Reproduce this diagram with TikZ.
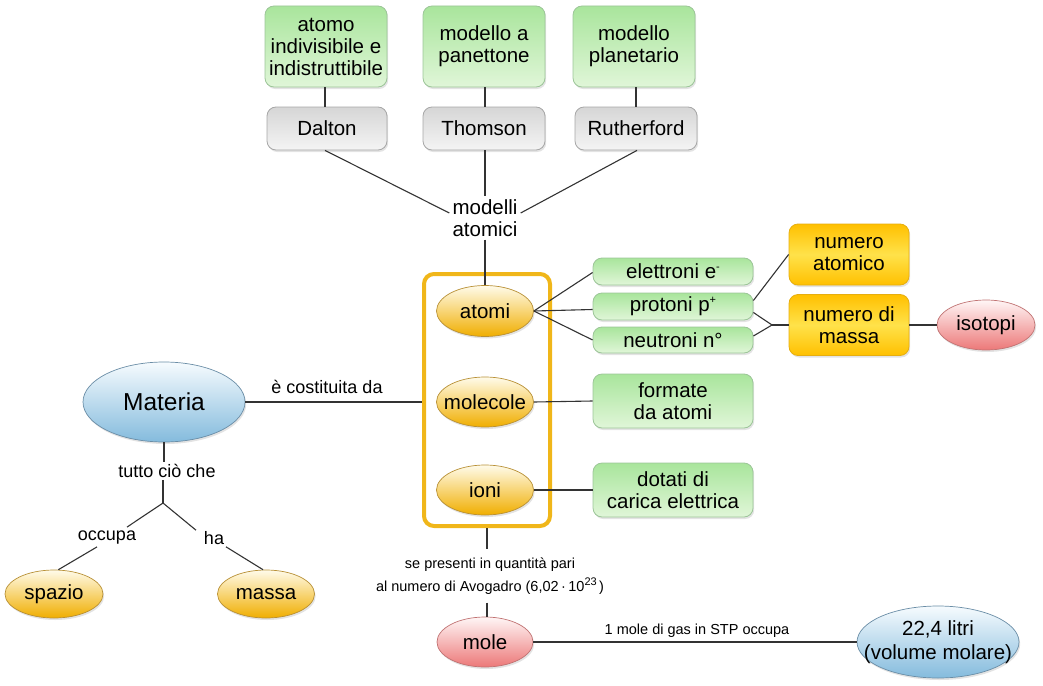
\documentclass[tikz,border=0pt]{standalone}
\usepackage{fontspec}
\setmainfont{Liberation Sans}
\usetikzlibrary{shadows,calc,shapes.geometric}
\definecolor{greenTop}{HTML}{A9E59C}
\definecolor{greenBot}{HTML}{E0F6D8}
\definecolor{greenBd}{HTML}{9CC598}
\definecolor{grayTop}{HTML}{D6D6D6}
\definecolor{grayBot}{HTML}{F4F4F4}
\definecolor{grayBd}{HTML}{A6A6A6}
\definecolor{goldTop}{HTML}{FFC000}
\definecolor{goldMid}{HTML}{FFE24A}
\definecolor{goldBd}{HTML}{E6AE10}
\definecolor{yelTop}{HTML}{FFFBEA}
\definecolor{yelBot}{HTML}{F0AE00}
\definecolor{yelBd}{HTML}{B89035}
\definecolor{pinkTop}{HTML}{FFF6F6}
\definecolor{pinkBot}{HTML}{EC7878}
\definecolor{pinkBd}{HTML}{C07272}
\definecolor{blueTop}{HTML}{F6FBFE}
\definecolor{blueBot}{HTML}{84BBDD}
\definecolor{blueBd}{HTML}{6A8DA6}
\definecolor{contc}{HTML}{F0B619}
\definecolor{linec}{HTML}{333333}
\newcommand{\upx}[1]{\raisebox{0.42em}{\fontsize{11}{11}\selectfont #1}}
\begin{document}
\begin{tikzpicture}[x=1pt,y=-1pt,
  base/.style={font=\fontsize{20.5}{22}\selectfont, align=center, inner sep=0pt, text=black},
  shd/.style={drop shadow={shadow xshift=1.2pt,shadow yshift=-2pt,opacity=0.22}},
  gbox/.style={base, rectangle, rounded corners=9pt, draw=greenBd, line width=0.8pt, top color=greenTop, bottom color=greenBot, shd},
  graybox/.style={base, rectangle, rounded corners=9pt, draw=grayBd, line width=0.8pt, top color=grayTop, bottom color=grayBot, shd},
  goldbox/.style={base, rectangle, rounded corners=9pt, draw=goldBd, line width=0.8pt, top color=goldTop, bottom color=goldTop, middle color=goldMid, shd},
  yell/.style={base, ellipse, draw=yelBd, line width=0.7pt, top color=yelTop, bottom color=yelBot, shd},
  pell/.style={base, ellipse, draw=pinkBd, line width=0.7pt, top color=pinkTop, bottom color=pinkBot, shd},
  bell/.style={base, ellipse, draw=blueBd, line width=0.7pt, top color=blueTop, bottom color=blueBot, shd},
  lbl/.style={font=\fontsize{18}{20}\selectfont, align=center, inner sep=2pt, text=black},
  slbl/.style={font=\fontsize{14.5}{23}\selectfont, align=center, inner sep=2pt, text=black},
  conn/.style={draw=linec, line width=1.1pt}
]
\useasboundingbox (0,0) rectangle (1043,685);

% top models
\node[gbox, minimum width=122pt, minimum height=81pt] (atomo) at (326,46.5) {atomo\\indivisibile e\\indistruttibile};
\node[gbox, minimum width=122pt, minimum height=81pt] (panett) at (484,46.5) {modello a\\panettone};
\node[gbox, minimum width=122pt, minimum height=81pt] (planet) at (634,46.5) {modello\\planetario};
\node[graybox, minimum width=120pt, minimum height=43pt] (dalton) at (327,128.5) {Dalton};
\node[graybox, minimum width=122pt, minimum height=43pt] (thomson) at (484,128.5) {Thomson};
\node[graybox, minimum width=122pt, minimum height=43pt] (ruth) at (636,128.5) {Rutherford};
\node[base, inner sep=3pt] (modelli) at (485,218) {modelli\\atomici};

\draw[conn] (atomo.south -| 325,0) -- (dalton.north -| 325,0);
\draw[conn] (panett.south -| 485,0) -- (thomson.north -| 485,0);
\draw[conn] (planet.south -| 636,0) -- (ruth.north -| 636,0);
\draw[conn] (dalton.south -| 325,0) -- ([yshift=5pt]modelli.west);
\draw[conn] (thomson.south -| 485,0) -- (modelli.north);
\draw[conn] (ruth.south -| 637,0) -- ([yshift=5pt]modelli.east);

% container
\node[draw=contc, line width=4pt, rounded corners=10pt, minimum width=126pt, minimum height=252pt, inner sep=0pt] (cont) at (487,400) {};
\node[yell, minimum width=97pt, minimum height=51pt] (atomi) at (485,311) {atomi};
\node[yell, inner xsep=-9pt, minimum width=97pt, minimum height=50pt] (molecole) at (485,402) {molecole};
\node[yell, minimum width=97pt, minimum height=50pt] (ioni) at (485,490) {ioni};
\draw[conn] (modelli.south) -- (atomi.north);

% particles
\node[gbox, minimum width=160pt, minimum height=27pt] (elet) at (673,271.5) {elettroni e\upx{-}};
\node[gbox, minimum width=160pt, minimum height=27pt] (prot) at (673,306.5) {protoni p\upx{+}};
\node[gbox, minimum width=160pt, minimum height=26pt] (neut) at (673,340) {neutroni n°};
\node[gbox, minimum width=160pt, minimum height=54pt] (formate) at (673,401) {formate\\da atomi};
\node[gbox, minimum width=160pt, minimum height=54pt] (dotati) at (673,490) {dotati di\\carica elettrica};
\node[goldbox, minimum width=120pt, minimum height=61pt] (numat) at (849,254.5) {numero\\atomico};
\node[goldbox, minimum width=120pt, minimum height=61pt] (nummas) at (849,325) {numero di\\massa};
\node[pell, minimum width=98pt, minimum height=50pt] (isotopi) at (986,325) {isotopi};
\coordinate (j) at (772,325);

\draw[conn] (atomi.east) -- ([yshift=-1pt]elet.west);
\draw[conn] (atomi.east) -- ([yshift=-3pt]prot.west);
\draw[conn] (atomi.east) -- (neut.west);
\draw[conn] ([yshift=6pt]prot.east) -- (numat.west);
\draw[conn] ([yshift=-6pt]prot.east) -- (j);
\draw[conn] ([yshift=4pt]neut.east) -- (j);
\draw[conn] (j) -- (nummas.west);
\draw[conn] (nummas.east) -- (isotopi.west);
\draw[conn] (molecole.east) -- (formate.west);
\draw[conn] (ioni.east) -- (dotati.west);

% Materia
\node[bell, font=\fontsize{24.5}{26}\selectfont, minimum width=162pt, minimum height=80pt] (materia) at (164,402) {Materia};
\draw[conn] (materia.east) -- (materia.east -| cont.west);
\node[lbl] (costituita) at (327,387) {è costituita da};
\node[lbl] (tutto) at (167,471) {tutto ciò che};
\coordinate (br) at (163,503);
\node[lbl] (occupa) at (107,538) {occupa};
\node[lbl] (ha) at (214,538) {ha};
\node[yell, minimum width=98pt, minimum height=48pt] (spazio) at (54,594) {spazio};
\node[yell, minimum width=97pt, minimum height=48pt] (massa) at (266,594) {massa};
\draw[conn] (materia.south) -- (tutto.north -| materia.south);
\draw[conn] (tutto.south -| br) -- (br);
\draw[conn] (br) -- ([xshift=20pt,yshift=2pt]occupa.north);
\draw[conn] (br) -- ([xshift=-18pt,yshift=-1pt]ha.north);
\draw[conn] ([xshift=-10pt]occupa.south) -- (spazio.80);
\draw[conn] ([xshift=12pt]ha.south) -- (massa.97);

% mole
\node[slbl, inner sep=8pt] (avog) at (490,576) {se presenti in quantità pari\\al numero di Avogadro (6,02\,·\,10\upx{23}\,)};
\node[pell, minimum width=96pt, minimum height=50pt] (mole) at (485,642) {mole};
\node[bell, font=\fontsize{20.5}{24}\selectfont, inner xsep=-18pt, minimum width=162pt, minimum height=72pt] (litri) at (938,642) {22,4 litri\\(volume molare)};
\draw[conn] (cont.south) -- (cont.south |- avog.north);
\draw[conn] (avog.south -| cont.south) -- (mole.north -| cont.south);
\draw[conn] (mole.east) -- (litri.west);
\node[slbl] (stp) at (697,631) {1 mole di gas in STP occupa};
\end{tikzpicture}
\end{document}
